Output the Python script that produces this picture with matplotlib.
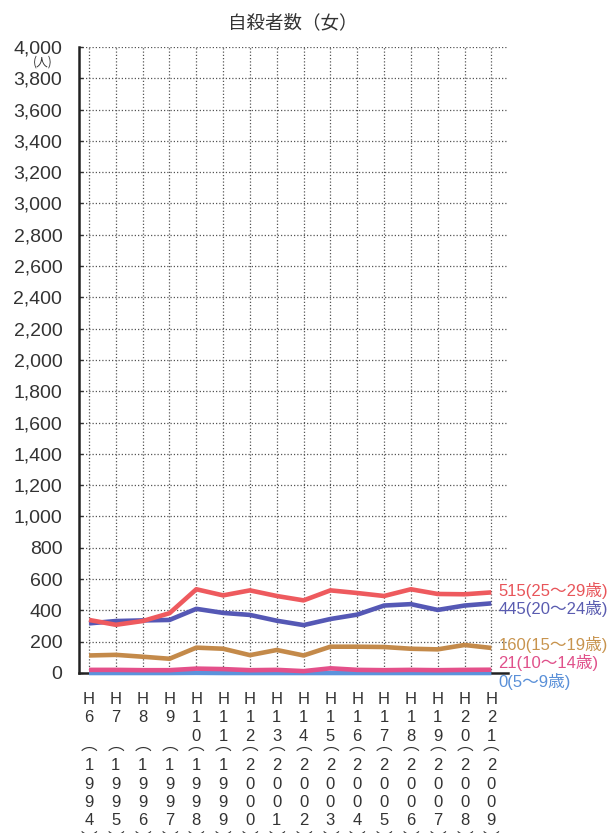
import matplotlib
matplotlib.use("Agg")
import matplotlib.pyplot as plt
from matplotlib.ticker import FuncFormatter

plt.rcParams['font.family'] = ['Liberation Sans', 'Noto Sans CJK JP', 'DejaVu Sans']

# Heisei era years and corresponding Western calendar years
heisei = [6, 7, 8, 9, 10, 11, 12, 13, 14, 15, 16, 17, 18, 19, 20, 21]
western = [1994, 1995, 1996, 1997, 1998, 1999, 2000, 2001,
           2002, 2003, 2004, 2005, 2006, 2007, 2008, 2009]

# Female suicides by age group
age_25_29 = [339, 308, 332, 382, 535, 496, 528, 492, 464, 528, 511, 492, 535, 505, 503, 515]
age_20_24 = [317, 332, 336, 339, 410, 384, 371, 334, 306, 345, 373, 431, 440, 403, 431, 445]
age_15_19 = [112, 116, 104, 91, 162, 155, 114, 147, 112, 168, 168, 166, 155, 151, 179, 160]
age_10_14 = [20, 20, 18, 18, 28, 25, 18, 20, 12, 30, 20, 18, 20, 18, 20, 21]
age_5_9 = [0, 0, 0, 0, 1, 0, 0, 0, 0, 0, 0, 0, 0, 0, 0, 0]

group_names = ['25〜29歳', '20〜24歳', '15〜19歳', '10〜14歳', '5〜9歳']
y_ticks = list(range(0, 4001, 200))

series = [
    (age_5_9, group_names[4], '#5b93dc', '#5a90d8', -9),
    (age_10_14, group_names[3], '#e4508a', '#e0508a', 7),
    (age_15_19, group_names[2], '#c48a4a', '#c8944e', 3),
    (age_20_24, group_names[1], '#5558b5', '#5a5cb0', -5),
    (age_25_29, group_names[0], '#ee5a5e', '#e8555a', 2),
]

fig = plt.figure(figsize=(6.16, 8.33), dpi=100)
ax = fig.add_axes([0.12825, 0.19208, 0.6964, 0.7515])

x = list(range(len(heisei)))

ax.set_xlim(-0.374, 15.62)
ax.set_ylim(0, 4000)

# dotted grid
grid_style = dict(color='#555555', linestyle=(0, (1, 1.6)), linewidth=0.9, zorder=1)
for v in y_ticks[1:]:
    ax.axhline(v, **grid_style)
for xi in x:
    ax.axvline(xi, **grid_style)

for vals, name, lc, tc, dy in series:
    ax.plot(x, vals, color=lc, linewidth=3.3, solid_capstyle='butt',
            solid_joinstyle='round', zorder=4, clip_on=False)
    ax.annotate(f"{vals[-1]}({name})", xy=(x[-1], vals[-1]), xycoords='data',
                xytext=(7, dy), textcoords='offset pixels',
                ha='left', va='center', fontsize=12, color=tc,
                annotation_clip=False)

# axes styling
for side in ('top', 'right'):
    ax.spines[side].set_visible(False)
for side in ('left', 'bottom'):
    ax.spines[side].set_linewidth(1.8)
    ax.spines[side].set_color('#222222')
    ax.spines[side].set_zorder(3)

ax.set_yticks(y_ticks)
ax.yaxis.set_major_formatter(FuncFormatter(lambda v, p: f"{int(v):,}"))
ax.tick_params(axis='y', direction='in', length=3, width=1, color='#333333',
               pad=12, labelsize=14, labelcolor='#333333')
ax.set_xticks(x)
ax.tick_params(axis='x', length=0, labelbottom=False)

# stacked vertical year labels
row_offsets = {'H': 27, 'd1': 45, 'd2': 63.5, 'open': 72,
               'y1': 93, 'y2': 111.5, 'y3': 130, 'y4': 148, 'close': 167}
for xi, h, w in zip(x, heisei, western):
    chars = [('H', row_offsets['H'])]
    hs = str(h)
    chars.append((hs[0], row_offsets['d1']))
    if len(hs) > 1:
        chars.append((hs[1], row_offsets['d2']))
    chars.append(('︵', row_offsets['open']))
    for k, c in enumerate(str(w)):
        chars.append((c, row_offsets[f'y{k + 1}']))
    chars.append(('︶', row_offsets['close']))
    for c, off in chars:
        ax.annotate(c, xy=(xi, 0), xycoords=('data', 'axes fraction'),
                    xytext=(0, -off), textcoords='offset pixels',
                    ha='center', va='center', fontsize=12, color='#333333',
                    annotation_clip=False)

# unit label and title
fig.text(43 / 616, 1 - 62 / 833, '(人)', ha='center', va='center',
         fontsize=8.5, color='#333333', family=['Noto Sans CJK JP'])
fig.text(292.5 / 616, 1 - 23.5 / 833, '自殺者数（女）', ha='center', va='center',
         fontsize=13.3, color='#333333', family=['Noto Sans CJK JP'])

fig.savefig('out.png', dpi=100, facecolor='white')
